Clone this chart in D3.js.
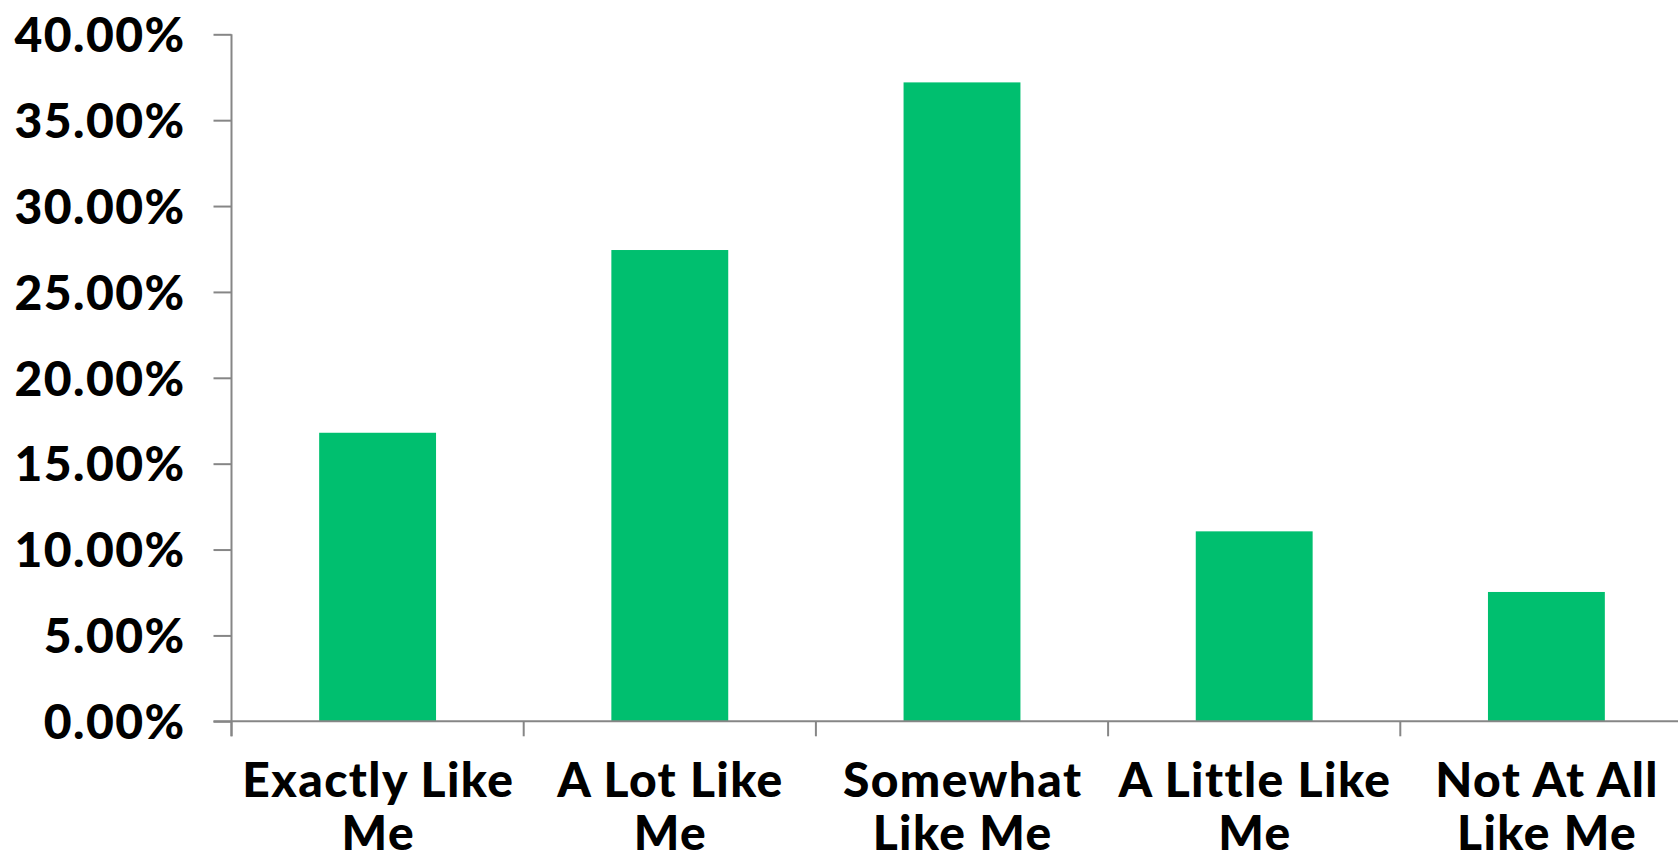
<!DOCTYPE html>
<html>
<head>
<meta charset="utf-8">
<script src="https://cdn.jsdelivr.net/npm/d3@7"></script>
<style>
  html, body { margin: 0; padding: 0; background: #ffffff; }
  svg { display: block; }
  .lbl { font-family: Lato, "Open Sans", sans-serif; font-weight: 900; fill: #000; letter-spacing: 1.4px; }
</style>
</head>
<body>
<svg id="chart" width="1678" height="855"></svg>
<script>
// Survey responses: share of respondents per answer
const categories = ["Exactly Like Me", "A Lot Like Me", "Somewhat Like Me", "A Little Like Me", "Not At All Like Me"];
const categoryLines = [["Exactly Like", "Me"], ["A Lot Like", "Me"], ["Somewhat", "Like Me"], ["A Little Like", "Me"], ["Not At All", "Like Me"]];
const shares = [0.1680, 0.2744, 0.3720, 0.1106, 0.0753];
const yTicks = [0, 0.05, 0.10, 0.15, 0.20, 0.25, 0.30, 0.35, 0.40];

const W = 1678, H = 855;
const plotLeft = 231.5, plotTop = 34.3, plotBottom = 721.3, step = 292.2;
const axisColor = "#868686";
const barColor = "#00BF6F";
const fontSize = 48;

const svg = d3.select("#chart");

const x = d3.scaleBand()
  .domain(categories)
  .range([plotLeft, plotLeft + step * categories.length])
  .paddingInner(0.6)
  .paddingOuter(0.3);

const y = d3.scaleLinear()
  .domain([0, 0.40])
  .range([plotBottom, plotTop]);

// Bars
svg.append("g")
  .selectAll("rect")
  .data(shares)
  .join("rect")
  .attr("x", (d, i) => x(categories[i]))
  .attr("y", d => y(d))
  .attr("width", x.bandwidth())
  .attr("height", d => y(0) - y(d))
  .attr("fill", barColor);

// Y axis
const yAxis = svg.append("g")
  .attr("transform", `translate(${plotLeft},0)`)
  .call(d3.axisLeft(y).tickValues(yTicks).tickFormat(d3.format(".2%")).tickSize(18).tickPadding(28));
yAxis.select(".domain").remove();
yAxis.selectAll(".tick line").attr("stroke", axisColor).attr("stroke-width", 2);
yAxis.selectAll(".tick text")
  .attr("class", "lbl")
  .style("font-size", fontSize + "px")
  .attr("dy", "0.36em");

// Vertical axis line (runs down past the baseline like the category ticks)
svg.append("line")
  .attr("x1", plotLeft).attr("x2", plotLeft)
  .attr("y1", plotTop).attr("y2", plotBottom + 15)
  .attr("stroke", axisColor).attr("stroke-width", 2);

// Horizontal axis line
svg.append("line")
  .attr("x1", plotLeft - 18).attr("x2", W)
  .attr("y1", plotBottom).attr("y2", plotBottom)
  .attr("stroke", axisColor).attr("stroke-width", 2);

// Category boundary ticks
const bounds = d3.range(categories.length + 1).map(i => x.range()[0] + i * x.step());
svg.append("g")
  .selectAll("line")
  .data(bounds)
  .join("line")
  .attr("x1", d => d).attr("x2", d => d)
  .attr("y1", plotBottom).attr("y2", plotBottom + 15)
  .attr("stroke", axisColor).attr("stroke-width", 2);

// Category labels, two lines each
const labels = svg.append("g")
  .selectAll("text")
  .data(categories)
  .join("text")
  .attr("class", "lbl")
  .style("font-size", fontSize + "px")
  .attr("text-anchor", "middle")
  .attr("x", d => x(d) + x.bandwidth() / 2 + 0.7)
  .attr("y", plotBottom + 76);
labels.selectAll("tspan")
  .data((d, i) => categoryLines[i])
  .join("tspan")
  .attr("x", function () { return this.parentNode.getAttribute("x"); })
  .attr("dy", (d, j) => j === 0 ? 0 : 53)
  .text(d => d);
</script>
</body>
</html>
